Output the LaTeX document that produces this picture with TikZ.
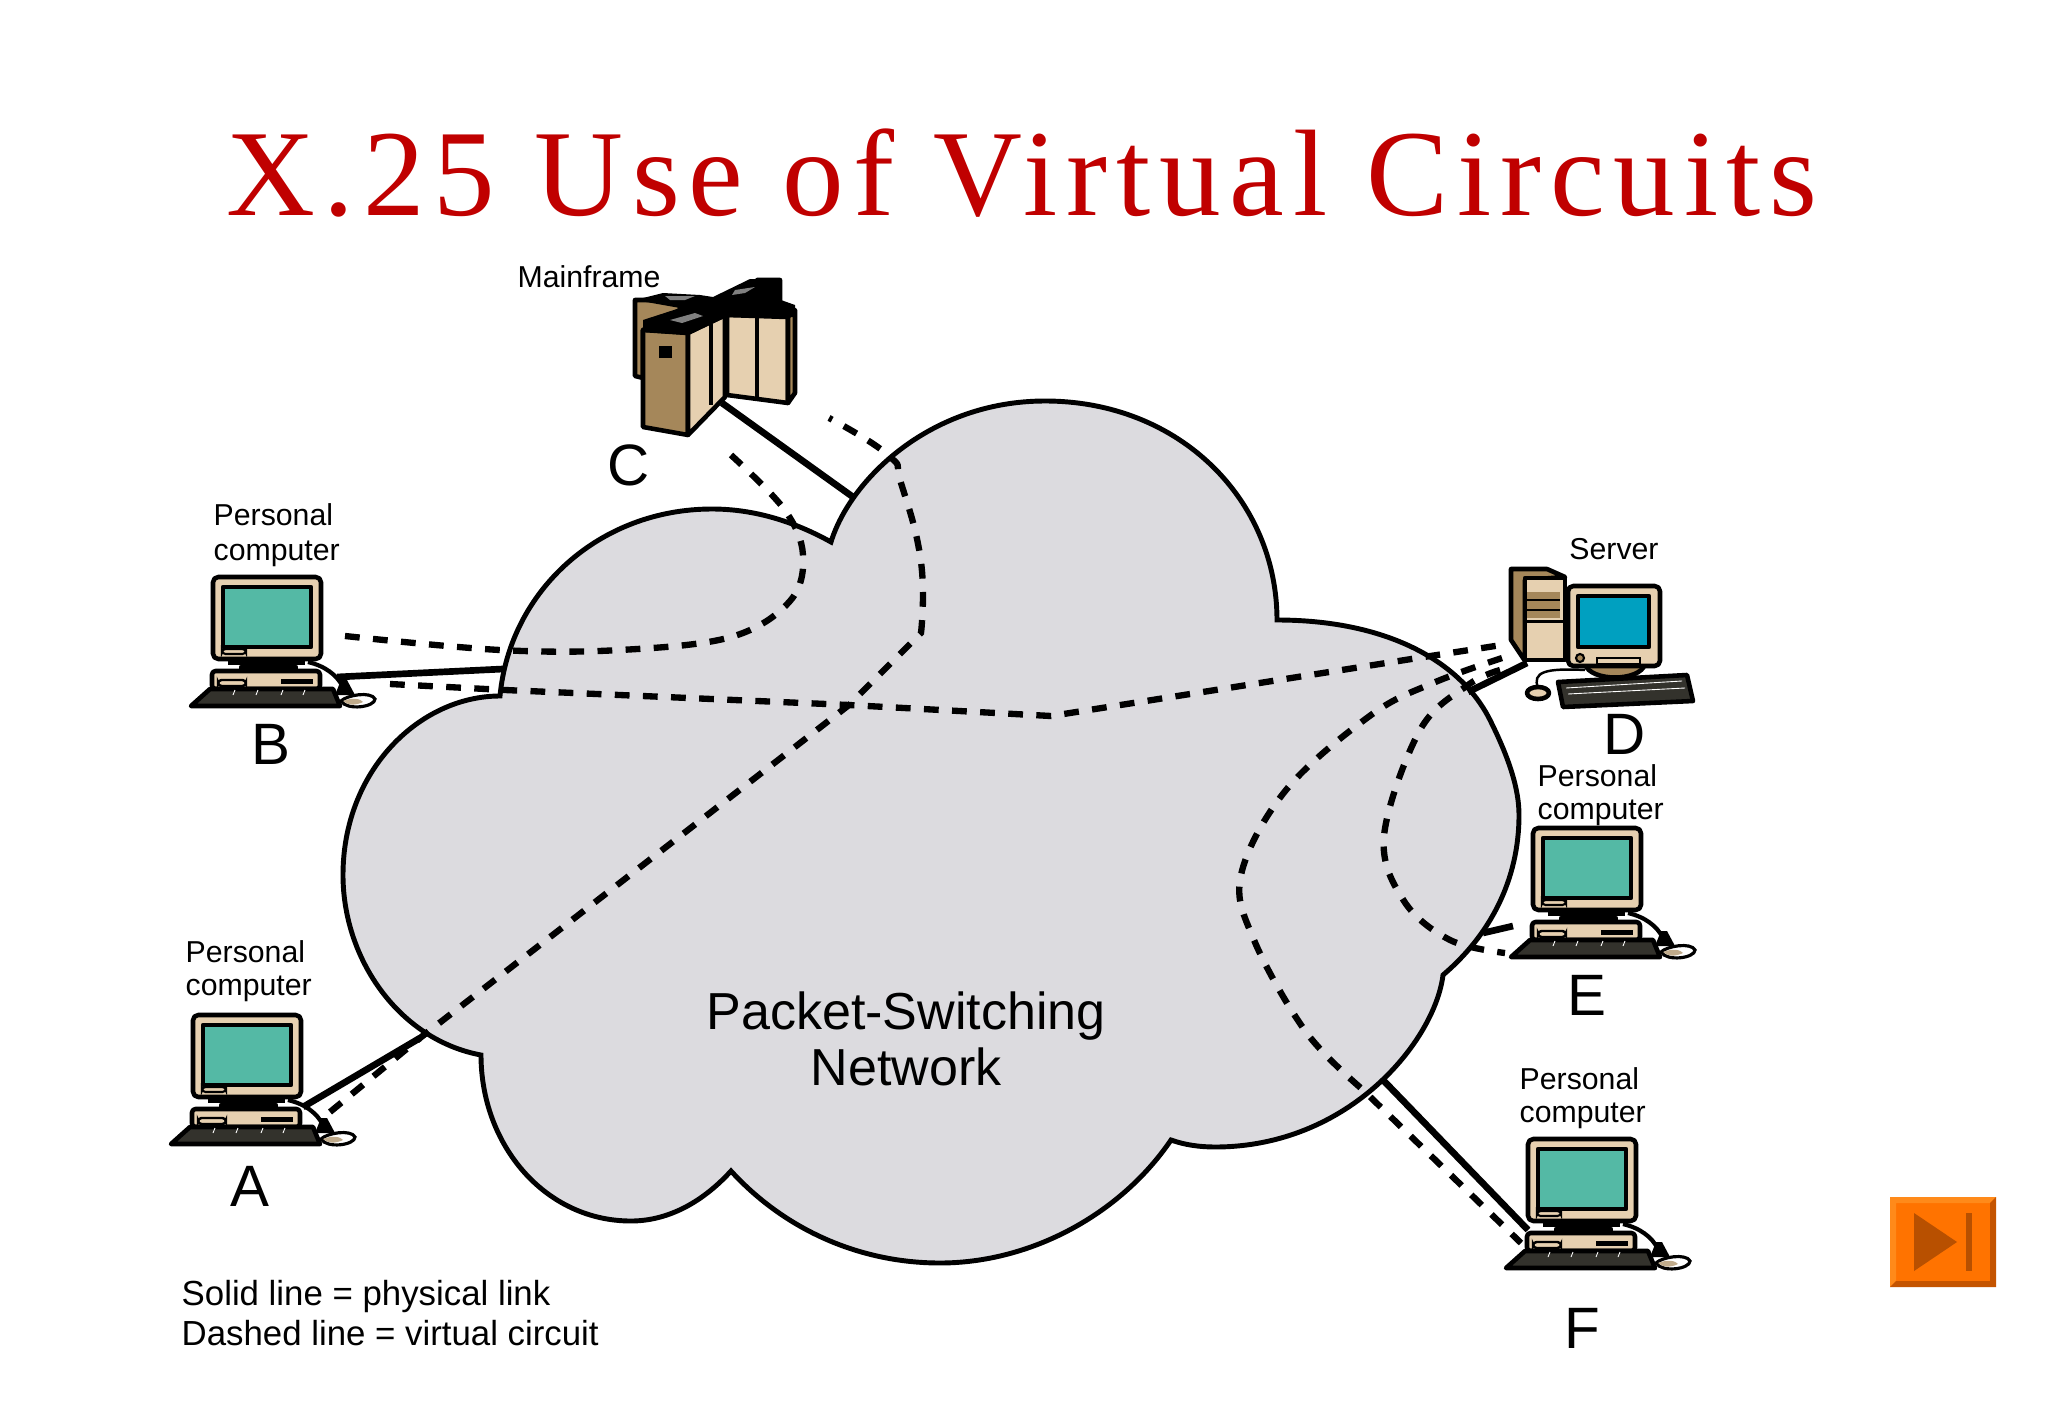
\documentclass[tikz,border=0pt]{standalone}
\usepackage{fontspec}
\setmainfont{Liberation Sans}
\newfontfamily\titlefont[LetterSpace=7.1]{Liberation Serif}
\usepackage{xcolor}
\usepackage{tikz}
\definecolor{cloudgrey}{HTML}{DCDBDF}
\definecolor{casebeige}{HTML}{E6D0B0}
\definecolor{casebrown}{HTML}{A5875A}
\definecolor{pcscreen}{HTML}{54B9A5}
\definecolor{serverscreen}{HTML}{00A0C0}
\definecolor{keydark}{HTML}{33322C}
\definecolor{titlered}{HTML}{C00000}
\definecolor{btnface}{HTML}{FF7300}
\definecolor{btnlight}{HTML}{FF8A1A}
\definecolor{btndark}{HTML}{C45400}
\definecolor{btnmark}{HTML}{B85000}

\tikzset{
	kit/.style={draw=black,line width=1.3pt,line join=round},
	physical/.style={line width=1.9pt},
	virtual/.style={line width=1.8pt,dash pattern=on 4.2pt off 3.8pt},
	small/.style={font=\fontsize{8.6}{9.4}\selectfont,align=left,inner sep=0pt},
	letter/.style={font=\fontsize{16.6}{18}\selectfont,inner sep=0pt},
	pc/.pic={
		\fill[black] (15,82) rectangle (92,88);
		\fill[black] (32,86) rectangle (83,92);
		\draw[kit,fill=casebeige] (28,90) -- (83,90) -- (83,94) -- (28,94) -- cycle;
		\draw[kit,fill=casebeige,rounded corners=1.5pt] (0,0) rectangle (108,82);
		\draw[kit,fill=pcscreen] (10,10) rectangle (98,70);
		\draw[line width=.6pt,fill=casebeige,rounded corners=1pt] (9,72) rectangle (33,77);
		\draw[kit,fill=casebeige,rounded corners=1pt] (-1,94) rectangle (107,112);
		\draw[line width=.7pt,fill=casebeige,rounded corners=1pt] (5,103) rectangle (33,109);
		\fill[black] (68,102) rectangle (100,107);
		\draw[kit,fill=keydark] (-22,129) -- (-3,112) -- (120,112) -- (127,129) -- cycle;
		\foreach \Key in {22,45,70,92}{
			\draw[white,line width=.25pt] (\Key,113) -- (\Key-2,118);
		};
		\draw[line width=1.2pt] (95,85) .. controls (112,89) and (124,98) .. (130,110);
		\fill[black] (122,118) -- (128,103) -- (134,103) -- (142,118) -- cycle;
		\draw[line width=.9pt,fill=white] (128,124) .. controls (134,118) and (158,114) .. (162,122) .. controls (162,130) and (134,134) .. (128,124) -- cycle;
		\fill[casebrown!70] (130,124) .. controls (140,120) and (148,122) .. (150,125) .. controls (142,129) and (134,128) .. (130,124) -- cycle;
	},
}

\begin{document}
\begin{tikzpicture}[x=0.01cm,y=-0.01cm]
		\useasboundingbox (0,0) rectangle (2048,1418);
		\fill[white] (0,0) rectangle (2048,1418);

		\node (title) at (1022,173) {\titlefont\fontsize{35}{38}\selectfont\color{titlered}X.25 Use of Virtual Circuits};

		\draw[line width=1.4pt,fill=cloudgrey,line join=miter]
			(500,696) .. controls (510,590) and (600,509) .. (712,509)
			.. controls (755,509) and (795,522) .. (831,542)
			.. controls (850,480) and (930,401) .. (1045,401)
			.. controls (1180,401) and (1277,500) .. (1277,620)
			.. controls (1385,620) and (1460,660) .. (1490,720)
			.. controls (1510,760) and (1519,790) .. (1519,815)
			.. controls (1519,880) and (1490,935) .. (1443,975)
			.. controls (1435,1040) and (1350,1147) .. (1215,1147)
			.. controls (1200,1147) and (1185,1145) .. (1171,1140)
			.. controls (1120,1215) and (1030,1263) .. (940,1263)
			.. controls (860,1263) and (785,1230) .. (731,1171)
			.. controls (700,1205) and (665,1221) .. (631,1221)
			.. controls (545,1221) and (481,1145) .. (481,1055)
			.. controls (400,1040) and (343,960) .. (343,875)
			.. controls (343,770) and (420,696) .. (500,696)
			-- cycle;

		\coordinate (portA) at (303,1107);
		\coordinate (edgeA) at (420,1038);
		\coordinate (portB) at (337,677);
		\coordinate (edgeB) at (503,669);
		\coordinate (portC) at (722,403);
		\coordinate (edgeC) at (853,497);
		\coordinate (portD) at (1527,663);
		\coordinate (edgeD) at (1468,692);
		\coordinate (portE) at (1513,926);
		\coordinate (edgeE) at (1483,933);
		\coordinate (portF) at (1528,1230);
		\coordinate (edgeF) at (1384,1081);

		\foreach \Link in {A,B,C,D,E,F}{
			\draw[physical] (port\Link) -- (edge\Link);
		};

		\coordinate (vcBstart) at (345,636);
		\coordinate (vcCend) at (731,455);
		\coordinate (vcBlow) at (390,684);
		\coordinate (vcDtop) at (1508,644);
		\coordinate (vcAstart) at (330,1112);
		\coordinate (vcCtop) at (829,418);
		\coordinate (vcDmid) at (1502,658);
		\coordinate (vcFend) at (1521,1243);
		\coordinate (vcDlow) at (1500,670);
		\coordinate (vcEend) at (1505,953);

		\draw[virtual] plot[smooth,tension=.6] coordinates {(vcBstart) (500,650) (620,650) (731,637) (790,601) (803,555) (784,509) (vcCend)};
		\draw[virtual] (vcBlow) -- (505,690) -- (849,705) -- (1051,716) -- (1424,657) -- (vcDtop);
		\draw[virtual] (vcAstart) -- (420,1038) -- (849,705) -- (921,633) -- plot[smooth,tension=.8] coordinates {(921,633) (921,562) (901,483) (888,455) (vcCtop)};
		\draw[virtual] plot[smooth,tension=.6] coordinates {(vcDmid) (1433,683) (1371,715) (1286,790) (1241,875) (1254,940) (1306,1032) (1362,1089)} -- (vcFend);
		\draw[virtual] plot[smooth,tension=.6] coordinates {(vcDlow) (1468,685) (1420,730) (1384,836) (1404,901) (1450,940) (vcEend)};

		\foreach \Pos in {(213,577),(193,1015),(1533,828),(1528,1139)}{
			\pic at \Pos {pc};
		};

		% server
		\draw[kit,fill=casebrown] (1511,569) -- (1547,569) -- (1565,577) -- (1525,580) -- (1525,661) -- (1511,640) -- cycle;
		\draw[kit,fill=casebeige] (1525,578) rectangle (1565,660);
		\fill[casebrown] (1527,592) rectangle (1560,618);
		\draw[line width=.6pt] (1527,600) -- (1560,600) (1527,610) -- (1560,610);
		\fill[black] (1527,620) rectangle (1563,623);
		\draw[kit,fill=casebrown] (1585,664) .. controls (1590,682) and (1640,682) .. (1645,664) -- cycle;
		\draw[kit,fill=casebeige,rounded corners=1.5pt] (1568,586) rectangle (1660,666);
		\draw[kit,fill=serverscreen] (1578,596) rectangle (1649,647);
		\draw[line width=.6pt,fill=casebeige] (1597,658) rectangle (1640,664);
		\draw[line width=.6pt,fill=casebrown] (1580,658) circle[radius=4];
		\draw[kit,fill=keydark] (1558,682) -- (1687,675) -- (1693,701) -- (1563,707) -- cycle;
		\draw[white,line width=.25pt] (1566,688) -- (1682,681) (1568,694) -- (1685,688);
		\draw[line width=.7pt] (1538,688) .. controls (1532,672) and (1545,668) .. (1585,670);
		\draw[kit,fill=casebeige] (1538,693) ellipse[x radius=11,y radius=6];

		% mainframe
		\draw[kit,fill=casebrown] (635,300) -- (635,376) -- (643,378) -- (643,330) -- (680,310) -- (680,300) -- cycle;
		\draw[kit,fill=casebeige] (757,280) -- (780,280) -- (780,305) -- (745,305) -- cycle;
		\draw[kit,fill=casebrown] (643,330) -- (688,333) -- (688,435) -- (643,427) -- cycle;
		\draw[kit,fill=casebeige] (688,333) -- (725,315) -- (725,397) -- (688,435) -- cycle;
		\draw[kit,fill=casebeige] (727,315) -- (788,317) -- (788,403) -- (727,395) -- cycle;
		\draw[kit,fill=casebrown] (788,317) -- (795,310) -- (795,393) -- (788,403) -- cycle;
		\draw[line width=1pt] (711,324) -- (711,405) (757,316) -- (757,398);
		\fill[black] (635,300) -- (663,293) -- (700,295) -- (713,297) -- (750,279) -- (781,280) -- (781,300) -- (795,305) -- (795,317) -- (727,317) -- (688,335) -- (643,332) -- (643,320) -- (680,308) -- cycle;
		\fill[gray] (670,320) -- (695,313) -- (703,316) -- (682,323) -- cycle;
		\fill[gray] (665,296) -- (695,296) -- (685,300) -- (670,300) -- cycle;
		\fill[gray] (735,290) -- (755,287) -- (745,293) -- (732,295) -- cycle;
		\fill[black] (659,346) rectangle (672,358);

		\node[small,font=\fontsize{8.6}{10}\selectfont] (labelB) at (213,535) [anchor=west] {Personal\\computer};
		\node[small] (labelA) at (185,971) [anchor=west] {Personal\\computer};
		\node[small] (labelE) at (1537,795) [anchor=west] {Personal\\computer};
		\node[small] (labelF) at (1519,1098) [anchor=west] {Personal\\computer};
		\node[small] (labelC) at (589,277) {Mainframe};
		\node[small] (labelD) at (1614,549) {Server};

		\node[letter] (nameA) at (250,1186) {A};
		\node[letter] (nameB) at (271,744) {B};
		\node[letter] (nameC) at (629,465) {C};
		\node[letter] (nameD) at (1625,734) {D};
		\node[letter] (nameE) at (1587,995) {E};
		\node[letter] (nameF) at (1582,1328) {F};

		\node[font=\fontsize{14.8}{16}\selectfont,align=center,inner sep=0pt] (cloudname) at (906,1039) {Packet-Switching\\Network};
		\node[font=\fontsize{9.9}{11.3}\selectfont,align=left,inner sep=0pt,anchor=west] (legend) at (181,1313) {Solid line = physical link\\Dashed line = virtual circuit};

		% next button
		\fill[btnface] (1890,1197) rectangle (1996,1287);
		\fill[btnlight] (1890,1197) -- (1996,1197) -- (1990,1203) -- (1896,1203) -- (1896,1281) -- (1890,1287) -- cycle;
		\fill[btndark] (1996,1197) -- (1996,1287) -- (1890,1287) -- (1896,1281) -- (1990,1281) -- (1990,1203) -- cycle;
		\fill[btnmark] (1914,1213) -- (1957,1242) -- (1914,1271) -- cycle;
		\fill[btnmark] (1966,1213) rectangle (1972,1271);
\end{tikzpicture}
\end{document}
